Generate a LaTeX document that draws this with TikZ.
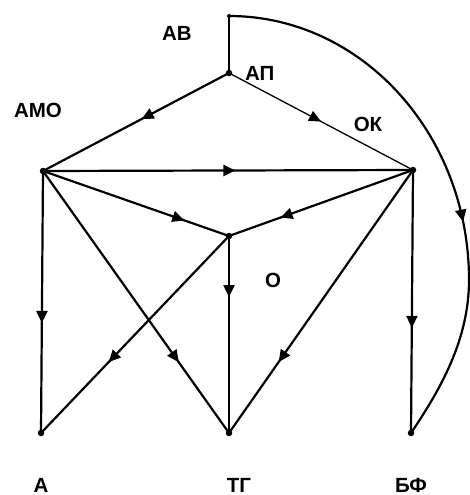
\documentclass[tikz,border=0pt]{standalone}
\usepackage{fontspec}
\setmainfont{Liberation Sans}
\usetikzlibrary{arrows.meta,decorations.markings}
\tikzset{
  dot/.style={circle,fill=black,inner sep=0pt,minimum size=6.5pt},
  lbl/.style={font=\fontsize{20.5}{22}\selectfont\bfseries,inner sep=0pt},
  edge/.style={line width=2.2pt},
  thinedge/.style={line width=1.3pt},
  midarrow/.style={postaction={decorate},decoration={markings,mark=at position #1 with {\arrow{Triangle[length=12pt,width=11pt]}}}}
}
\begin{document}
\begin{tikzpicture}[x=1pt,y=-1pt]
\useasboundingbox (0,0) rectangle (470,495);
\node[dot,minimum size=4pt] (ab) at (229,16) {};
\node[dot] (ap) at (229,73) {};
\node[dot] (l) at (43,171) {};
\node[dot] (r) at (413,170) {};
\node[dot] (o) at (229,236) {};
\node[dot] (a) at (41,433) {};
\node[dot] (tg) at (229,433) {};
\node[dot] (bf) at (411,433) {};
\coordinate (arcmid) at (469,280);

\draw[edge] (ab.center) -- (ap.center);
\draw[edge,midarrow=0.47] (ap.center) -- (l.center);
\draw[thinedge,midarrow=0.5] (ap.center) -- (r.center);
\draw[edge,midarrow=0.52] (l.center) -- (r.center);
\draw[edge,midarrow=0.76] (l.center) -- (o.center);
\draw[edge,midarrow=0.72] (r.center) -- (o.center);
\draw[edge,midarrow=0.58] (l.center) -- (a.center);
\draw[edge,midarrow=0.31] (o.center) -- (tg.center);
\draw[edge,midarrow=0.64] (o.center) -- (a.center);
\draw[edge,midarrow=0.73] (l.center) -- (tg.center);
\draw[edge,midarrow=0.73] (r.center) -- (tg.center);
\draw[edge,midarrow=0.6] (r.center) -- (bf.center);
\draw[edge,midarrow=0.6] (ab.center) .. controls (361.5,16) and (469,134) .. (arcmid)
   .. controls (469,340) and (440,390) .. (bf.center);

\node[lbl] (tab) at (177,33) {АВ};
\node[lbl,anchor=west] (tap) at (245,73) {АП};
\node[lbl] (tamo) at (38,110) {АМО};
\node[lbl] (tok) at (368,124) {ОК};
\node[lbl] (to) at (273,280) {О};
\node[lbl] (ta) at (41,485) {А};
\node[lbl] (ttg) at (239,485) {ТГ};
\node[lbl] (tbf) at (411,485) {БФ};
\end{tikzpicture}
\end{document}
